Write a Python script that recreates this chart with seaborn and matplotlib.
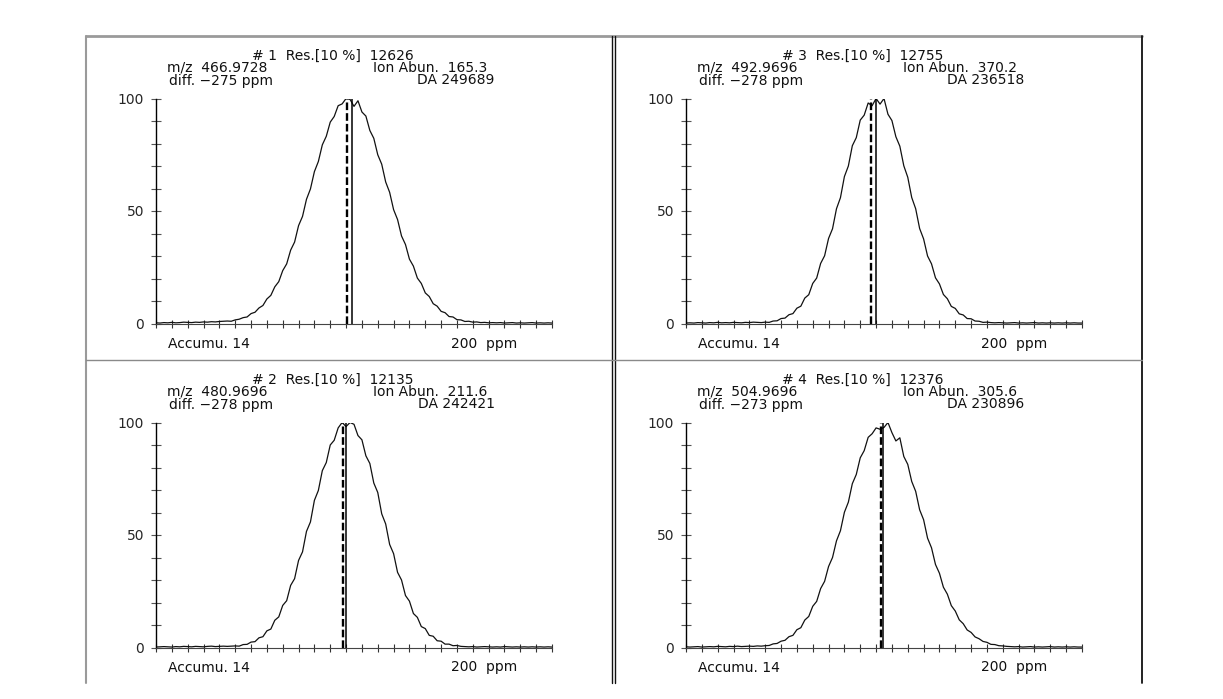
import numpy as np
import pandas as pd
import matplotlib
matplotlib.use("Agg")
import matplotlib.pyplot as plt
from matplotlib.lines import Line2D
import seaborn as sns

# ---------------- data ----------------
ppm = list(range(-100, 101, 2))

# panel #1 (top left)
abund_1 = [0.3, 0.2, 0.4, 0.3, 0.5, 0.3, 0.4, 0.6, 0.5, 0.4, 0.6, 0.5, 0.7, 0.6, 0.8, 0.7, 0.9,
           1.0, 1.1, 1.0, 1.6, 1.9, 2.6, 2.9, 4.4, 5.0, 6.9, 8.0, 10.9, 12.5, 16.3, 18.6, 23.5,
           26.5, 32.6, 36.2, 43.5, 47.6, 55.2, 59.8, 67.5, 72.0, 79.4, 83.2, 89.5, 92.0, 96.8,
           97.6, 100.0, 99.6, 96.5, 99.0, 94.0, 92.2, 85.8, 82.3, 75.0, 70.8, 62.9, 58.3, 50.6,
           46.2, 38.9, 35.1, 28.6, 25.5, 20.2, 17.8, 13.6, 12.0, 8.8, 7.7, 5.4, 4.8, 3.1, 2.9,
           1.7, 1.6, 0.9, 1.0, 0.6, 0.7, 0.4, 0.5, 0.3, 0.4,
           0.3, 0.4, 0.2, 0.3, 0.4, 0.2, 0.3, 0.2, 0.3, 0.4, 0.2, 0.3, 0.2, 0.3, 0.2]
# panel #3 (top right)
abund_3 = [0.2, 0.3, 0.2, 0.4, 0.3, 0.2, 0.4, 0.3, 0.5, 0.3, 0.4, 0.3, 0.5, 0.4, 0.3, 0.5, 0.4,
           0.6, 0.5, 0.4,
           0.6, 0.5, 1.1, 1.2, 2.2, 2.4, 3.9, 4.4, 6.8, 7.7, 11.3, 12.8, 17.8, 20.2, 26.7, 30.1,
           37.8, 42.1, 51.0, 55.9, 65.3, 70.0, 79.0, 82.6, 90.4, 92.6, 98.0, 96.8, 100.0, 97.5,
           100.0, 93.0, 90.2, 83.0, 78.8, 70.1, 65.0, 56.0, 51.0, 42.2, 37.6, 30.0, 26.5, 20.3,
           17.6, 12.9, 11.0, 7.6, 6.7, 4.3, 3.8, 2.2, 2.1, 1.1, 1.0, 0.5, 0.6, 0.4,
           0.3, 0.4, 0.3, 0.2, 0.3, 0.4, 0.2, 0.3, 0.2, 0.3, 0.4, 0.2, 0.3, 0.2, 0.3, 0.2, 0.3,
           0.2, 0.3, 0.2, 0.3, 0.2, 0.2]
# panel #2 (bottom left)
abund_2 = [0.2, 0.3, 0.4, 0.3, 0.2, 0.4, 0.3, 0.5, 0.4, 0.3, 0.5, 0.4, 0.3, 0.5, 0.6, 0.4, 0.5,
           0.6, 0.5, 0.6,
           0.7, 0.6, 1.3, 1.4, 2.4, 2.6, 4.3, 4.8, 7.4, 8.2, 12.1, 13.6, 18.7, 20.8, 27.6, 30.6,
           38.7, 42.5, 51.6, 55.8, 65.4, 69.8, 78.6, 82.2, 90.0, 92.1, 97.6, 100.0, 98.2, 100.0,
           99.2, 94.2, 92.3, 85.2, 81.8, 73.1, 68.9, 59.4, 54.9, 45.8, 41.7, 33.4, 30.0, 23.1,
           20.6, 15.1, 13.4, 9.3, 8.4, 5.4, 5.0, 3.0, 2.8, 1.5, 1.5, 0.8, 0.9, 0.5,
           0.4, 0.3, 0.4, 0.2, 0.3, 0.4, 0.3, 0.2, 0.3, 0.2, 0.4, 0.3, 0.2, 0.3, 0.2, 0.3, 0.2,
           0.3, 0.2, 0.3, 0.2, 0.3, 0.2]
# panel #4 (bottom right)
abund_4 = [0.3, 0.2, 0.3, 0.4, 0.2, 0.3, 0.4, 0.3, 0.5, 0.4, 0.3, 0.5, 0.4, 0.6, 0.4, 0.5, 0.6,
           0.5, 0.7,
           0.6, 0.8, 0.9, 1.6, 1.8, 2.8, 3.2, 4.8, 5.4, 7.9, 8.8, 12.2, 13.8, 18.3, 20.5, 26.2,
           29.4, 36.0, 40.0, 47.4, 51.9, 60.1, 64.6, 72.8, 76.9, 84.3, 87.5, 93.4, 95.0, 97.6,
           97.0, 97.8, 100.0, 95.5, 91.8, 93.2, 84.9, 81.4, 73.8, 69.4, 61.2, 56.8, 48.6, 44.3,
           36.9, 33.0, 26.8, 23.7, 18.6, 16.2, 12.3, 10.6, 7.8, 6.7, 4.7, 3.9, 2.7, 2.3, 1.4,
           1.3, 0.8, 0.7,
           0.5, 0.4, 0.3, 0.4, 0.2, 0.3, 0.4, 0.2, 0.3, 0.2, 0.3, 0.4, 0.2, 0.3, 0.2, 0.3, 0.2,
           0.3, 0.2, 0.2]

panel_no = ["1", "3", "2", "4"]
resolution = ["12626", "12755", "12135", "12376"]
mz_values = ["466.9728", "492.9696", "480.9696", "504.9696"]
ion_abun = ["165.3", "370.2", "211.6", "305.6"]
diff_ppm = ["-275", "-278", "-278", "-273"]
da_values = ["249689", "236518", "242421", "230896"]
measured_ppm = [-3.4, -6.6, -5.6, -1.7]     # dashed line
reference_ppm = [-1.0, -4.0, -4.0, -0.3]    # solid line
abund = [abund_1, abund_3, abund_2, abund_4]
y_ticklabels = ["0", "50", "100"]

# ---------------- style ----------------
sns.set_style("white")
plt.rcParams['font.family'] = ['DejaVu Sans']
plt.rcParams['lines.scale_dashes'] = False

W, H = 1223, 699
fig = plt.figure(figsize=(W / 100, H / 100), dpi=100)


def fx(px):
    return px / W


def fy(py):
    return 1 - py / H


# frame lines
frame = [
    ((86, 1142), (36, 36), "#9a9a9a", 2.0),
    ((86, 86), (36, 683), "#9a9a9a", 1.5),
    ((1142, 1142), (36, 683), "#111111", 1.3),
    ((612, 612), (36, 683), "#111111", 1.0),
    ((615, 615), (36, 683), "#111111", 1.0),
    ((86, 1142), (360, 360), "#8a8a8a", 1.0),
]
for xs, ys, c, lw in frame:
    fig.add_artist(Line2D([fx(xs[0]), fx(xs[1])], [fy(ys[0]), fy(ys[1])],
                          transform=fig.transFigure, color=c, lw=lw))

origins = [(86, 36, 70), (613, 36, 73), (86, 360, 70), (613, 360, 73)]
FS = 10


def tok(L, dx, y, s):
    fig.text(fx(L + dx), fy(y), s, ha="center", va="center", fontsize=FS, color="#111111")


for i, (L, T, off) in enumerate(origins):
    ax_left = L + off
    ax_w = 396
    y100 = T + 62.5
    y0 = T + 287.5
    ax = fig.add_axes([fx(ax_left), fy(y0), ax_w / W, (y0 - y100) / H])
    df = pd.DataFrame({"ppm": ppm, "abundance": abund[i]})
    sns.lineplot(data=df, x="ppm", y="abundance", ax=ax, color="#111111", lw=0.9,
                 estimator=None, sort=False)
    ax.vlines(measured_ppm[i], 0, 100, colors="#000000", lw=1.7,
              linestyles=(0, (5.5, 2.2)))
    ax.vlines(reference_ppm[i], 0, 100, colors="#000000", lw=1.1)
    ax.set_xlim(-100, 100)
    ax.set_ylim(0, 100)
    ax.set_xlabel("")
    ax.set_ylabel("")
    for s in ["top", "right"]:
        ax.spines[s].set_visible(False)
    ax.spines["left"].set_color("#000000")
    ax.spines["left"].set_linewidth(1.0)
    ax.spines["bottom"].set_color("#444444")
    ax.spines["bottom"].set_linewidth(0.8)
    ax.set_yticks([0, 50, 100])
    ax.set_yticklabels(y_ticklabels)
    ax.set_yticks(list(range(0, 101, 10)), minor=True)
    ax.set_xticks(list(range(-100, 101, 8)))
    ax.set_xticklabels([])
    ax.tick_params(axis="y", which="both", direction="inout", length=7, width=0.8,
                   color="#555555", labelsize=FS, pad=5, left=True)
    ax.tick_params(axis="x", which="major", direction="inout", length=6, width=0.8,
                   color="#333333", bottom=True)
    ax.set_facecolor("none")

    s = off - 70
    tok(L, 247 + s, T + 19.5, f"# {panel_no[i]}  Res.[10 %]  {resolution[i]}")
    tok(L, 131 + s, T + 31.5, f"m/z  {mz_values[i]}")
    tok(L, 344 + s, T + 31.5, f"Ion Abun.  {ion_abun[i]}")
    tok(L, 135 + s, T + 44.5, f"diff. {diff_ppm[i].replace('-', chr(0x2212))} ppm")
    tok(L, 370 + s, T + 44.5, f"DA {da_values[i]}")
    tok(L, 123 + s, T + 307.5, "Accumu. 14")
    tok(L, 398 + s, T + 307.5, "200  ppm")

fig.savefig("out.png", dpi=100)
